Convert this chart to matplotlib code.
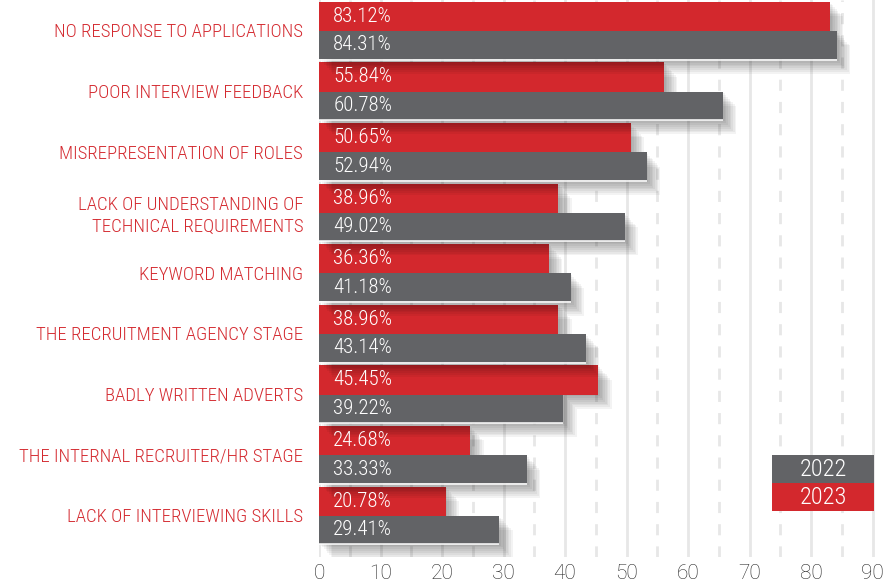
import matplotlib
matplotlib.use("Agg")
import matplotlib.pyplot as plt
from matplotlib import font_manager
from matplotlib import patheffects as pe
from matplotlib.patches import Rectangle
import numpy as np

# ---------------- data ----------------
categories = [
    "NO RESPONSE TO APPLICATIONS",
    "POOR INTERVIEW FEEDBACK",
    "MISREPRESENTATION OF ROLES",
    "LACK OF UNDERSTANDING OF\nTECHNICAL REQUIREMENTS",
    "KEYWORD MATCHING",
    "THE RECRUITMENT AGENCY STAGE",
    "BADLY WRITTEN ADVERTS",
    "THE INTERNAL RECRUITER/HR STAGE",
    "LACK OF INTERVIEWING SKILLS",
]
values_2023 = [83.1, 56.1, 50.7, 38.9, 37.4, 38.9, 45.4, 24.6, 20.6]
values_2022 = [84.2, 65.7, 53.3, 49.7, 40.9, 43.4, 39.7, 33.8, 29.3]
labels_2023 = ["83.12%", "55.84%", "50.65%", "38.96%", "36.36%",
               "38.96%", "45.45%", "24.68%", "20.78%"]
labels_2022 = ["84.31%", "60.78%", "52.94%", "49.02%", "41.18%",
               "43.14%", "39.22%", "33.33%", "29.41%"]
series_names = ["2022", "2023"]
x_major = [0, 10, 20, 30, 40, 50, 60, 70, 80, 90]
x_minor = [5, 15, 25, 35, 45, 55, 65, 75, 85]

# ---------------- style ----------------
RED = "#d3282d"
GRAY = "#626366"
LABEL_RED = "#d42a30"
GRID = "#e7e7e7"

avail = {f.name for f in font_manager.fontManager.ttflist}


def pick(cands):
    for c in cands:
        if c in avail:
            return c
    return "DejaVu Sans"


hand = pick(["Roboto Condensed", "Liberation Sans Narrow", "Open Sans Condensed",
             "DejaVu Sans Condensed", "Liberation Sans"])
narrow = hand in ("Liberation Sans Narrow", "Roboto Condensed",
                  "Open Sans Condensed", "DejaVu Sans Condensed")
tick_font = pick(["Roboto", "Lato", "Liberation Sans", "DejaVu Sans"])

cat_size = 13.5 if narrow else 11
pct_size = 15 if narrow else 12.5
leg_size = 17.5 if narrow else 14
hand_weight = "light"

fig = plt.figure(figsize=(8.91, 5.85), dpi=100)
ax_left_px, ax_bottom_px = 319, 28
ax = fig.add_axes([ax_left_px / 891, ax_bottom_px / 585,
                   (891 - ax_left_px) / 891, (585 - ax_bottom_px) / 585])

n = len(categories)
idx = np.arange(n)
red_y = idx + 0.03
gray_y = idx + 0.51
bar_h_red = 0.48
bar_h_gray = 0.465

shadow = [pe.SimplePatchShadow(offset=(1.2 * j, -1.3 * j), shadow_rgbFace="black",
                               alpha=0.048) for j in range(1, 9)] + [pe.Normal()]

bars_red = ax.barh(red_y, values_2023, height=bar_h_red, align="edge",
                   color=RED, zorder=2, linewidth=0)
bars_gray = ax.barh(gray_y, values_2022, height=bar_h_gray, align="edge",
                    color=GRAY, zorder=3, linewidth=0)
for b in list(bars_red) + list(bars_gray):
    b.set_path_effects(shadow)

# white bevel line under grey bars
ax.hlines(gray_y + bar_h_gray + 0.008, 0, values_2022, color="white",
          linewidth=1.1, zorder=4)

# value labels
for i in range(n):
    ax.text(2.3, red_y[i] + bar_h_red / 2, labels_2023[i], color="white",
            fontsize=pct_size, family=hand, fontweight=hand_weight,
            va="center", ha="left", zorder=6)
    ax.text(2.3, gray_y[i] + bar_h_gray / 2, labels_2022[i], color="white",
            fontsize=pct_size, family=hand, fontweight=hand_weight,
            va="center", ha="left", zorder=6)

# axes setup
ax.set_xlim(0, 93.0)
ax.set_ylim(557 / 60.6, 0)
ax.set_xticks(x_major)
ax.set_xticks(x_minor, minor=True)
ax.set_xticklabels([str(v) for v in x_major], fontsize=15, color="#262626",
                   family=tick_font, fontweight="light")
ax.tick_params(axis="x", which="both", length=0, pad=5)
ax.set_yticks(idx + 0.5)
ax.set_yticklabels(categories, fontsize=cat_size, color=LABEL_RED, family=hand,
                   fontweight=hand_weight, linespacing=1.3)
ax.tick_params(axis="y", length=0, pad=11.5)
for s in ax.spines.values():
    s.set_visible(False)
ax.set_axisbelow(True)
ax.grid(axis="x", which="major", color=GRID, linewidth=2.0, zorder=0)
ax.grid(axis="x", which="minor", color=GRID, linewidth=2.0, linestyle=(0, (4, 4)),
        zorder=0)
ax.grid(axis="y", visible=False)

# legend boxes (axes fraction)
lx, lw = (772 - ax_left_px) / 572, 102 / 572
top_g = 1 - 455 / 557
mid = 1 - 483 / 557
bot_r = 1 - 511 / 557
ax.add_patch(Rectangle((lx, mid), lw, top_g - mid, transform=ax.transAxes,
                       facecolor=GRAY, edgecolor="none", zorder=7, clip_on=False))
ax.add_patch(Rectangle((lx, bot_r), lw, mid - bot_r, transform=ax.transAxes,
                       facecolor=RED, edgecolor="none", zorder=7, clip_on=False))
ax.text(lx + lw / 2, (top_g + mid) / 2, series_names[0], transform=ax.transAxes,
        color="white", fontsize=leg_size, family=hand, fontweight=hand_weight,
        ha="center", va="center", zorder=8)
ax.text(lx + lw / 2, (mid + bot_r) / 2, series_names[1], transform=ax.transAxes,
        color="white", fontsize=leg_size, family=hand, fontweight=hand_weight,
        ha="center", va="center", zorder=8)

fig.savefig("out.png", dpi=100, facecolor="white")
